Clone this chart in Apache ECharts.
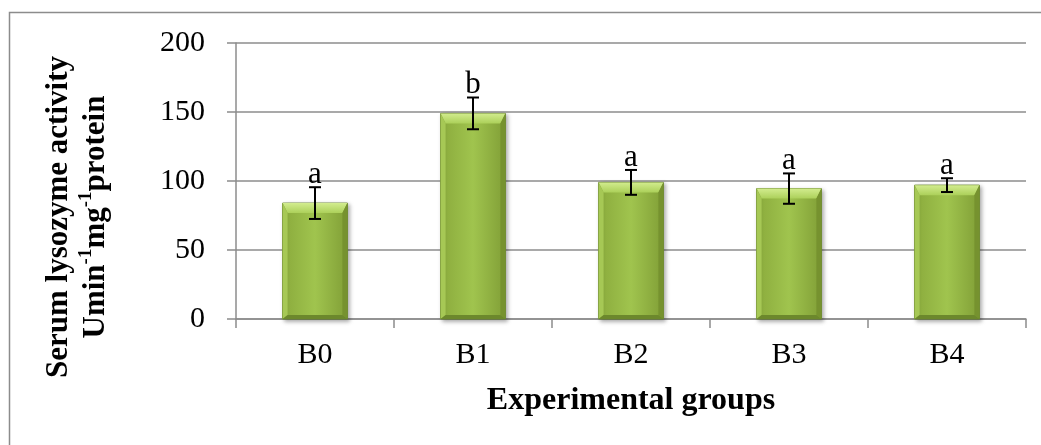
<!DOCTYPE html>
<html>
<head>
<meta charset="utf-8">
<script src="https://cdn.jsdelivr.net/npm/echarts@6/dist/echarts.min.js"></script>
<style>
html,body{margin:0;padding:0;background:#fff;}
#chart{width:1041px;height:445px;}
</style>
</head>
<body>
<div id="chart"></div>
<script>
const categories = ['B0', 'B1', 'B2', 'B3', 'B4'];
const means = [84, 149, 99, 94.5, 97];
const errors = [11.5, 11.5, 9, 11, 5];
const letters = ['a', 'b', 'a', 'a', 'a'];
const yMin = 0, yMax = 200, yStep = 50;

const FONT = '"Liberation Serif", "Times New Roman", serif';
const chart = echarts.init(document.getElementById('chart'), null, {renderer: 'canvas'});

const barData = categories.map((c, i) => [i, means[i]]);
const errData = categories.map((c, i) => [i, means[i], errors[i]]);

function renderBar(params, api) {
  const i = api.value(0), v = api.value(1);
  const top = api.coord([i, v]);
  const base = api.coord([i, 0]);
  const bw = api.size([1, 0])[0] * 0.41;
  const x0 = top[0] - bw / 2, x1 = top[0] + bw / 2;
  const yT = top[1], yB = base[1];
  const bt = 10, bs = 5, bb = 4;
  return {
    type: 'group',
    children: [
      {
        type: 'rect',
        shape: {x: x0, y: yT, width: bw, height: yB - yT},
        style: {
          fill: new echarts.graphic.LinearGradient(0, 0, 1, 0, [
            {offset: 0, color: '#8aaa3c'},
            {offset: 0.5, color: '#a0c44e'},
            {offset: 1, color: '#809e36'}
          ]),
          stroke: '#6b8830', lineWidth: 1,
          shadowBlur: 4, shadowColor: 'rgba(0,0,0,0.35)', shadowOffsetX: 2, shadowOffsetY: 2
        }
      },
      {
        type: 'polygon',
        shape: {points: [[x0, yT], [x1, yT], [x1 - bs, yT + bt], [x0 + bs, yT + bt]]},
        style: {fill: new echarts.graphic.LinearGradient(0, 0, 0, 1, [
          {offset: 0, color: '#d2ec8e'}, {offset: 1, color: '#acd05a'}
        ])}
      },
      {
        type: 'polygon',
        shape: {points: [[x0, yT], [x0 + bs, yT + bt], [x0 + bs, yB - bb], [x0, yB]]},
        style: {fill: '#a6c855'}
      },
      {
        type: 'polygon',
        shape: {points: [[x1, yT], [x1 - bs, yT + bt], [x1 - bs, yB - bb], [x1, yB]]},
        style: {fill: '#76922f'}
      },
      {
        type: 'polygon',
        shape: {points: [[x0, yB], [x0 + bs, yB - bb], [x1 - bs, yB - bb], [x1, yB]]},
        style: {fill: '#6c882c'}
      }
    ]
  };
}

function renderErr(params, api) {
  const i = api.value(0), v = api.value(1), e = api.value(2);
  const hi = api.coord([i, v + e]);
  const lo = api.coord([i, v - e]);
  const cx = hi[0];
  const cap = 6;
  const st = {stroke: '#000', lineWidth: 2};
  return {
    type: 'group',
    children: [
      {type: 'line', shape: {x1: cx, y1: hi[1], x2: cx, y2: lo[1]}, style: st},
      {type: 'line', shape: {x1: cx - cap, y1: hi[1], x2: cx + cap, y2: hi[1]}, style: st},
      {type: 'line', shape: {x1: cx - cap, y1: lo[1], x2: cx + cap, y2: lo[1]}, style: st},
      {
        type: 'text',
        style: {
          text: letters[params.dataIndex], x: cx, y: hi[1] + 3,
          align: 'center', verticalAlign: 'bottom',
          fontFamily: FONT, fontSize: 31, fill: '#000'
        }
      }
    ]
  };
}

const option = {
  animation: false,
  backgroundColor: '#fff',
  graphic: [{
    type: 'rect', z: -10, silent: true,
    shape: {x: 9.5, y: 12.5, width: 1200, height: 600},
    style: {fill: 'none', stroke: '#8c8c8c', lineWidth: 1.5}
  }],
  grid: {left: 236, right: 15, top: 43, bottom: 126, containLabel: false, outerBoundsMode: 'none'},
  xAxis: {
    type: 'category',
    data: categories,
    boundaryGap: true,
    name: 'Experimental groups',
    nameLocation: 'middle',
    nameGap: 66,
    nameTextStyle: {fontFamily: FONT, fontSize: 32, fontWeight: 'bold', color: '#000'},
    axisLine: {show: true, lineStyle: {color: '#8c8c8c', width: 1.5}},
    axisTick: {show: true, alignWithLabel: false, length: 9, lineStyle: {color: '#8c8c8c', width: 1.5}},
    axisLabel: {fontFamily: FONT, fontSize: 30, color: '#000', margin: 21}
  },
  yAxis: {
    type: 'value',
    min: yMin, max: yMax, interval: yStep,
    name: '{t|Serum lysozyme activity}\n{t|Umin}{s|-1}{t|mg}{s|-1}{t|protein}',
    nameLocation: 'middle',
    nameRotate: 90,
    nameGap: 122,
    nameTextStyle: {
      fontFamily: FONT, fontSize: 31, fontWeight: 'bold', color: '#000', lineHeight: 37,
      align: 'center',
      padding: [0, 72, 0, 0],
      rich: {
        t: {fontFamily: FONT, fontSize: 31, fontWeight: 'bold', color: '#000', lineHeight: 37},
        s: {fontFamily: FONT, fontSize: 19, fontWeight: 'bold', color: '#000', lineHeight: 22, verticalAlign: 'top'}
      }
    },
    axisLine: {show: true, lineStyle: {color: '#8c8c8c', width: 1.5}},
    axisTick: {show: true, length: 9, lineStyle: {color: '#8c8c8c', width: 1.5}},
    axisLabel: {fontFamily: FONT, fontSize: 30, color: '#000', margin: 31},
    splitLine: {show: true, lineStyle: {color: '#8c8c8c', width: 1.5}}
  },
  series: [
    {type: 'custom', name: 'bars', data: barData, renderItem: renderBar, z: 2,
     encode: {x: 0, y: 1}},
    {type: 'custom', name: 'err', data: errData, renderItem: renderErr, z: 3,
     encode: {x: 0, y: [1]}}
  ]
};
chart.setOption(option);
</script>
</body>
</html>
